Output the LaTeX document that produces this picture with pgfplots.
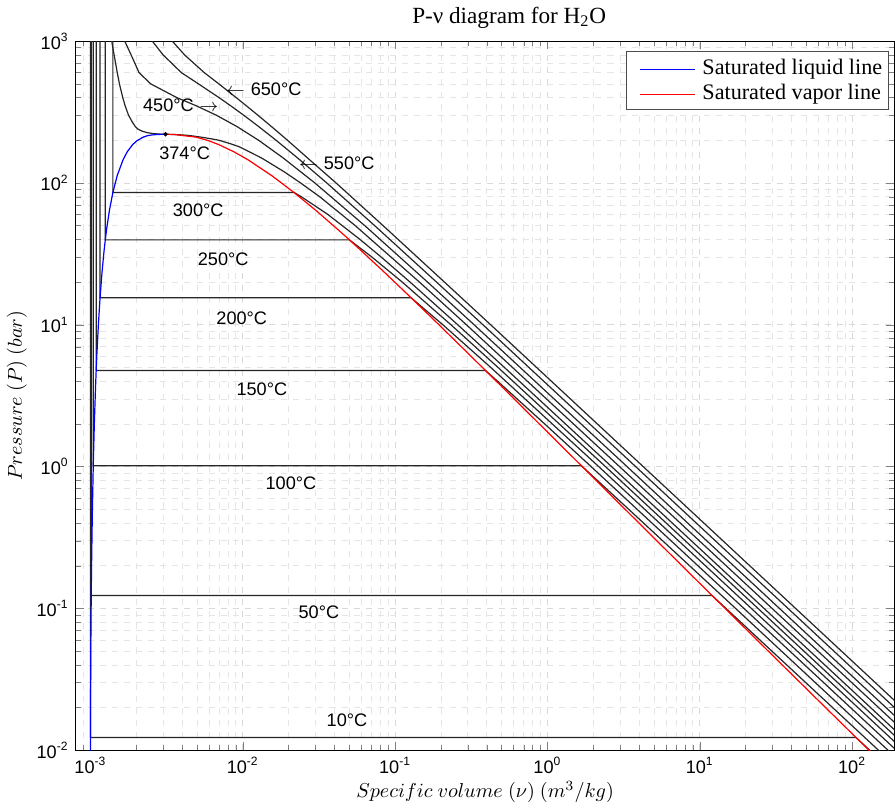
\documentclass[border=0pt]{standalone}
\usepackage{fontspec}
\setmainfont{Liberation Serif}
\setsansfont{Liberation Sans}
\usepackage{pgfplots}
\usepackage{pgfplotstable}
\pgfplotsset{compat=1.18}
\pgfplotsset{iso/.style={black!85, line width=0.6pt}}

% saturated liquid line: v_f (m3/kg), P_sat (bar)
\pgfplotstableread{
v P
0.0010001 0.008725
0.0010003 0.01228
0.0010018 0.02339
0.0010043 0.04246
0.0010078 0.07384
0.0010121 0.1235
0.0010171 0.1994
0.0010292 0.4739
0.0010435 1.0142
0.0010603 1.985
0.0010798 3.613
0.0010905 4.758
0.0011020 6.178
0.0011274 10.02
0.0011565 15.54
0.0011900 23.18
0.0012291 33.44
0.0012517 39.73
0.0012755 46.92
0.0013324 64.17
0.0014041 85.81
0.0014988 112.8
0.0016379 146.0
0.0017400 165.3
0.0018945 186.7
0.0020160 198.3
0.0022152 210.4
0.0023700 215.6
0.0025300 218.2
0.0027500 219.9
0.003106 220.64
}\satliq

% saturated vapor line: v_g (m3/kg), P_sat (bar)
\pgfplotstableread{
v P
0.003106 220.64
0.00350 219.9
0.00375 218.2
0.00410 215.6
0.004953 210.4
0.00600 198.3
0.006945 186.7
0.008813 165.3
0.010797 146.0
0.015486 112.8
0.021667 85.81
0.030165 64.17
0.042175 46.92
0.05013 39.73
0.059707 33.44
0.086094 23.18
0.12721 15.54
0.19384 10.02
0.30678 6.178
0.3924 4.758
0.5085 3.613
0.89133 1.985
1.672 1.0142
3.4053 0.4739
7.667 0.1994
12.03 0.1235
19.515 0.07384
32.88 0.04246
57.762 0.02339
106.32 0.01228
147.03 0.008725
}\satvap

\begin{document}
\begin{tikzpicture}
\tikzset{lab/.style={font=\sffamily\fontsize{9}{10}\selectfont, inner sep=0pt}}
\begin{axis}[
    scale only axis,
    width=406.5pt, height=352pt,
    xmode=log, ymode=log,
    xmin=8e-4, xmax=190, ymin=1e-2, ymax=1e3,
    xtick={1e-3,1e-2,1e-1,1,10,100},
    xticklabels={10\textsuperscript{-3},10\textsuperscript{-2},10\textsuperscript{-1},10\textsuperscript{0},10\textsuperscript{1},10\textsuperscript{2}},
    ytick={1e-2,1e-1,1,10,100,1000},
    yticklabels={10\textsuperscript{-2},10\textsuperscript{-1},10\textsuperscript{0},10\textsuperscript{1},10\textsuperscript{2},10\textsuperscript{3}},
    minor xtick={9e-4,2e-3,3e-3,4e-3,5e-3,6e-3,7e-3,8e-3,9e-3,2e-2,3e-2,4e-2,5e-2,6e-2,7e-2,8e-2,9e-2,0.2,0.3,0.4,0.5,0.6,0.7,0.8,0.9,2,3,4,5,6,7,8,9,20,30,40,50,60,70,80,90},
    minor ytick={2e-2,3e-2,4e-2,5e-2,6e-2,7e-2,8e-2,9e-2,0.2,0.3,0.4,0.5,0.6,0.7,0.8,0.9,2,3,4,5,6,7,8,9,20,30,40,50,60,70,80,90,200,300,400,500,600,700,800,900},
    tick label style={font=\sffamily\fontsize{9}{10}\selectfont},
    tick align=inside,
    major tick length=4pt, minor tick length=2.5pt,
    grid=both,
    major grid style={gray!30, dashed, line width=0.4pt},
    minor grid style={gray!20, dashed, line width=0.3pt},
    axis line style={line width=0.5pt},
    title={P-ν diagram for H\textsubscript{2}O},
    title style={font=\fontsize{11.5}{13}\selectfont, yshift=-3pt, xshift=12pt},
    xlabel={$Specific\ volume\ (\nu)\ (m^3/kg)$},
    ylabel={$Pressure\ (P)\ (bar)$},
    label style={font=\fontsize{10}{12}\selectfont},
    xlabel style={yshift=3pt},
    ylabel style={yshift=-2pt},
]

% isotherms (compressed liquid | two phase | superheated)
\addplot[iso] coordinates {(0.0010003,1000)(0.0010003,0.01228)(106.32,0.01228)(130.7,0.01)(145.2,0.009)}; % 10 C
\addplot[iso] coordinates {(0.0010121,1000)(0.0010121,0.1235)(12.03,0.1235)(14.867,0.1)(149.1,0.01)(165.7,0.009)}; % 50 C
\addplot[iso] coordinates {(0.0010435,1000)(0.0010435,1.0142)(1.672,1.0142)(3.4187,0.5)(17.196,0.1)(172.2,0.01)(191.3,0.009)}; % 100 C
\addplot[iso] coordinates {(0.0010905,1000)(0.0010905,4.758)(0.3924,4.758)(0.47088,4)(0.95986,2)(1.9367,1)(19.51,0.1)(195.3,0.01)}; % 150 C
\addplot[iso] coordinates {(0.0011565,1000)(0.0011565,15.54)(0.1272,15.54)(0.20602,10)(0.42503,5)(2.1724,1)(21.82,0.1)(218.4,0.01)}; % 200 C
\addplot[iso] coordinates {(0.0012517,1000)(0.0012517,39.73)(0.05013,39.73)(0.07058,30)(0.1115,20)(0.23275,10)(0.47443,5)(2.4062,1)(24.13,0.1)(241.4,0.01)}; % 250 C
\addplot[iso] coordinates {(0.0014041,1000)(0.0014041,85.81)(0.02167,85.81)(0.02426,80)(0.03619,60)(0.05884,40)(0.08118,30)(0.12551,20)(0.2580,10)(0.5226,5)(2.6389,1)(26.44,0.1)(264.5,0.01)}; % 300 C
\addplot[iso] coordinates {(0.00138,1000)(0.00143,800)(0.00150,600)(0.00155,500)(0.00163,400)(0.00169,350)(0.00178,300)(0.00188,270)(0.00197,250)(0.00205,240)(0.00218,232)(0.00238,226)(0.00260,223)(0.00285,221.3)(0.00311,220.64)(0.0034,220.1)(0.0038,219)(0.0043,217)(0.0048,214)(0.0054,210)(0.0062,205)(0.0070,200)(0.0082,190)(0.0095,180)(0.0133,150)(0.0187,120)(0.0240,100)(0.0320,80)(0.0548,50)(0.1446,20)(0.2941,10)(2.976,1)(29.85,0.1)(298.7,0.01)}; % 374 C
\addplot[iso] coordinates {(0.00168,1000)(0.00185,800)(0.002086,600)(0.002487,500)(0.003693,400)(0.004961,350)(0.006735,300)(0.009162,250)(0.01272,200)(0.01845,150)(0.02975,100)(0.0633,50)(0.1635,20)(0.3304,10)(3.334,1)(33.37,0.1)(333.7,0.01)}; % 450 C
\addplot[iso] coordinates {(0.00255,1000)(0.0030,800)(0.003955,600)(0.005118,500)(0.006985,400)(0.008345,350)(0.010168,300)(0.012724,250)(0.01656,200)(0.02293,150)(0.03564,100)(0.07352,50)(0.1872,20)(0.3777,10)(3.797,1)(37.99,0.1)(379.9,0.01)}; % 550 C
\addplot[iso] coordinates {(0.00345,1000)(0.00415,800)(0.005591,600)(0.006966,500)(0.009053,400)(0.010575,350)(0.012596,300)(0.015433,250)(0.01969,200)(0.02665,150)(0.04101,100)(0.0835,50)(0.2110,20)(0.4245,10)(4.256,1)(42.60,0.1)(426.0,0.01)}; % 650 C

% saturation dome and critical point
\addplot[color=blue, line width=0.6pt] table[x=v, y=P] {\satliq};
\addplot[color=red, line width=0.6pt] table[x=v, y=P] {\satvap};
\addplot[only marks, mark=*, mark size=0.9pt, black] coordinates {(0.003106,220.64)};

% temperature labels
\node[lab, anchor=west] at (axis cs:0.00773,456) {$\leftarrow$\,\,650°C};
\node[lab, anchor=east] at (axis cs:0.00696,351) {450°C\,\,$\rightarrow$};
\node[lab, anchor=west] at (axis cs:0.02333,138.2) {$\leftarrow$\,\,550°C};
\node[lab] at (axis cs:0.004153,162.8) {374°C};
\node[lab] at (axis cs:0.005095,64.1) {300°C};
\node[lab] at (axis cs:0.00744,29.1) {250°C};
\node[lab] at (axis cs:0.00985,11.2) {200°C};
\node[lab] at (axis cs:0.01334,3.49) {150°C};
\node[lab] at (axis cs:0.0207,0.762) {100°C};
\node[lab] at (axis cs:0.0316,0.094) {50°C};
\node[lab] at (axis cs:0.0483,0.0163) {10°C};

% legend box
\fill[white] (rel axis cs:0.672,0.9036) rectangle (rel axis cs:0.992,0.986);
\draw[black!70, line width=0.4pt] (rel axis cs:0.672,0.9036) rectangle (rel axis cs:0.992,0.986);
\node[anchor=west, inner sep=0pt, font=\fontsize{11}{13}\selectfont] at (rel axis cs:0.765,0.960) {Saturated liquid line};
\node[anchor=west, inner sep=0pt, font=\fontsize{11}{13}\selectfont] at (rel axis cs:0.765,0.925) {Saturated vapor line};
\draw[draw=blue, line width=0.6pt] (rel axis cs:0.689,0.960) -- (rel axis cs:0.756,0.960);
\draw[draw=blue, line width=0.6pt] (rel axis cs:0.689,0.960) -- (rel axis cs:0.756,0.960);
\draw[draw=red, line width=0.6pt] (rel axis cs:0.689,0.925) -- (rel axis cs:0.756,0.925);
\draw[draw=red, line width=0.6pt] (rel axis cs:0.689,0.925) -- (rel axis cs:0.756,0.925);
\end{axis}
\end{tikzpicture}
\end{document}
